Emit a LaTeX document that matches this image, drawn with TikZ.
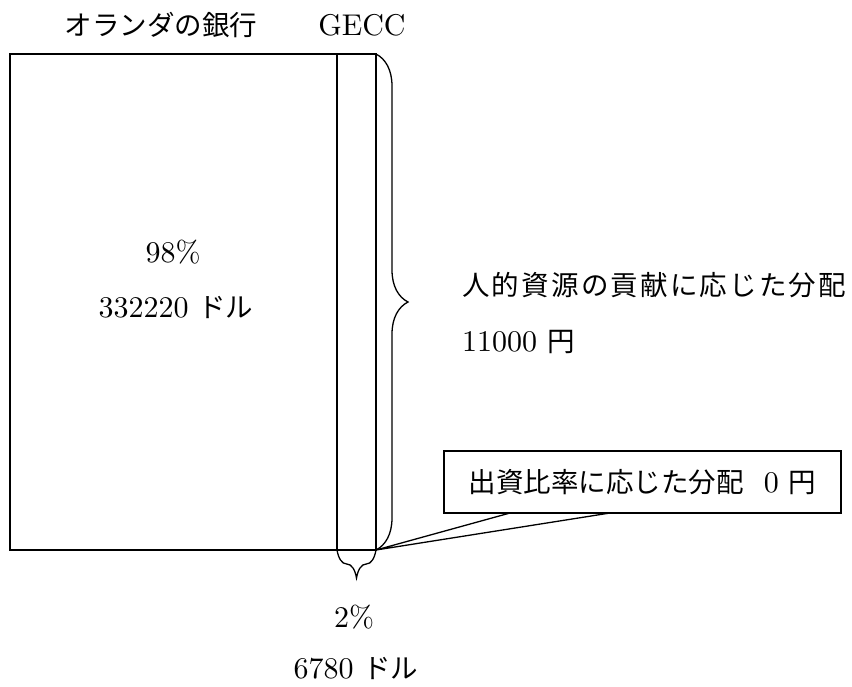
\documentclass[tikz,border=0pt]{standalone}
\usepackage{fontspec}
\setmainfont{lmroman10-regular.otf}
\newfontfamily\jpfam{Noto Sans CJK JP}
\newcommand\J[1]{{\jpfam\fontsize{27.5}{34}\selectfont #1}}
\usetikzlibrary{decorations.pathreplacing}
\begin{document}
\begin{tikzpicture}[x=1pt,y=-1pt,
  line/.style={line width=1.3pt},
  txt/.style={inner sep=0pt,font=\fontsize{30}{36}\selectfont},
  bracestyle/.style={line width=1.3pt,decorate,decoration={brace,amplitude=#1}}]
\useasboundingbox (0,0) rectangle (852,686);
\coordinate (tl) at (10,54);
\coordinate (br) at (376,550);
\coordinate (dt) at (337,54);
\coordinate (db) at (337,550);
\coordinate (tr) at (376,54);
\draw[line] (tl) rectangle (br);
\draw[line] (dt) -- (db);
\draw[bracestyle=32] (tr) -- (br);
\draw[bracestyle=28] (br) -- (db);
% texts
\node[txt] (bank) at (161,25) {\J{オランダの銀行}};
\node[txt] (gecc) at (362,25) {GECC};
\node[txt] (pct) at (173,252) {98\%};
\node[txt] (amt) at (176,307) {332220 \J{ドル}};
\node[txt,anchor=west] (hr) at (462,285) {\J{\addfontfeature{LetterSpace=8}人的資源の貢献に応じた分配}};
\node[txt,anchor=west] (hramt) at (462,342) {11000 \J{円}};
\node[txt] (p2) at (354,617) {2\%};
\node[txt] (amt2) at (356,668) {6780 \J{ドル}};
% callout
\node[line,draw,fill=white,minimum width=397pt,minimum height=62pt,inner sep=0pt,
  font=\fontsize{30}{36}\selectfont] (call) at (642.5,482) {\J{出資比率に応じた分配}\hspace{20pt}0 \J{円}};
\coordinate (wa) at (510,513);
\coordinate (wb) at (610,513);
\draw[line,line join=miter] (wa) -- (br) -- (wb);
\end{tikzpicture}
\end{document}
